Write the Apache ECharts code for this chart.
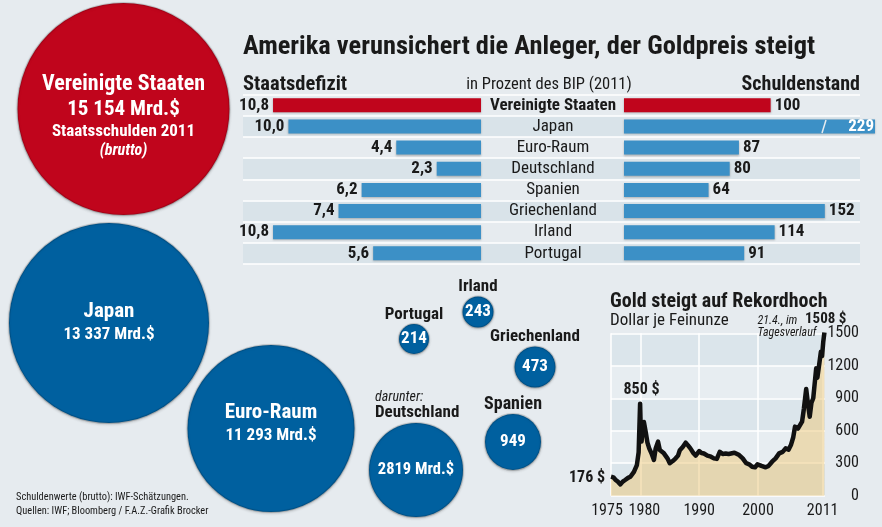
<!DOCTYPE html>
<html>
<head>
<meta charset="utf-8">
<title>Amerika verunsichert die Anleger</title>
<style>
html,body{margin:0;padding:0;background:#e6ebef;}
#main{width:882px;height:527px;}
</style>
<script src="https://cdn.jsdelivr.net/npm/echarts@6/dist/echarts.min.js"></script>
</head>
<body>
<div id="main"></div>
<script>
// bars
var countries = ['Vereinigte Staaten','Japan','Euro-Raum','Deutschland','Spanien','Griechenland','Irland','Portugal'];
var defizit = [10.8,10.0,4.4,2.3,6.2,7.4,10.8,5.6];
var schuldenLabels = [100,229,87,80,64,152,114,91];
// drawn length: the US bar is longer in the original than its label of 100
var schuldenBars = [111,229,87,80,64,152,114,91];

// bubbles
var bubbleNames = ['Vereinigte Staaten','Japan','Euro-Raum','Deutschland','Spanien','Griechenland','Irland','Portugal'];
var bubbleValues = ['15 154','13 337','11 293','2819','949','473','243','214'];

// gold
var goldYears = [1975,1975.4,1975.8,1976.2,1976.6,1977,1977.4,1977.9,1978.3,1978.9,1979.4,1979.7,1979.95,1980.05,1980.2,1980.4,1980.6,1980.9,1981.2,1981.5,1981.9,1982.3,1982.6,1983,1983.3,1983.6,1984,1984.6,1985,1985.5,1986,1986.4,1986.7,1987.2,1987.7,1988.1,1988.5,1989,1989.4,1990,1990.4,1990.8,1991.4,1992,1992.5,1993,1993.5,1994,1994.5,1995,1996,1996.8,1997.4,1998,1998.5,1999,1999.5,1999.9,2000.6,2001.3,2001.8,2002.4,2003,2003.6,2004.2,2004.7,2005.2,2005.6,2006,2006.3,2006.8,2007.5,2007.8,2008.2,2008.5,2008.8,2009.1,2009.4,2009.9,2010.1,2010.4,2010.7,2010.9,2011.1,2011.3];
var goldPrices = [176,170,145,128,105,130,145,165,175,220,283,400,850,640,500,620,680,590,490,437,390,330,437,499,422,410,391,345,300,320,345,370,420,450,490,465,437,395,370,412,395,390,370,360,345,340,406,385,390,385,397,375,345,300,290,268,262,290,275,262,275,314,345,391,405,437,425,468,540,638,620,684,800,985,850,730,860,900,1176,1090,1207,1330,1290,1420,1508];
var goldTicksX = [1975,1980,1990,2000,2011];
var goldLabelsX = [1980,1990,2000,2011];

// layout, px in page
var bubbleX = [123.5,109,271,416,513,535,478,414];
var bubbleY = [109,323,428.5,470,442,367,312,339];
var bubbleSize = [212,200,167,94,56,41,31,30];
var bubbleLabelShift = [6,0,-4,0,0,0,0,0];

var FONT = '"Roboto Condensed","Liberation Sans",sans-serif';
var INK = '#1a1a1a';
var BLUE = '#3c90c6';
var RED = '#c0051c';

function txt(x, y, text, size, opt) {
    opt = opt || {};
    return {
        type: 'text', x: x, y: y, silent: true, z: 20,
        style: {
            text: text, fontFamily: FONT, fontSize: size,
            fontWeight: opt.weight || 'normal', fontStyle: opt.style || 'normal',
            fill: opt.color || INK, align: opt.align || 'left', verticalAlign: 'middle'
        }
    };
}

var chart = echarts.init(document.getElementById('main'));

var barRowTop = 94.7, barRowH = 169.2;

var option = {
    backgroundColor: '#e6ebef',
    animation: false,
    textStyle: {fontFamily: FONT},
    grid: [
        {left: 243, width: 617, top: barRowTop, height: barRowH},   // row bands
        {left: 243, width: 238, top: barRowTop, height: barRowH},   // defizit
        {left: 624, width: 251, top: barRowTop, height: barRowH},   // schulden
        {left: 611, width: 214, top: 333.3, height: 162.4},         // gold
        {left: 0, width: 882, top: 0, height: 527}                  // bubbles, page px
    ],
    xAxis: [
        {gridIndex: 0, type: 'value', show: false},
        {gridIndex: 1, type: 'value', show: false, inverse: true, min: 0, max: 12.36},
        {gridIndex: 2, type: 'value', show: false, min: 0, max: 190},
        {
            gridIndex: 3, type: 'value', min: 1975, max: 2011.4,
            axisLine: {show: false},
            axisTick: {show: false, customValues: goldTicksX},
            axisLabel: {
                customValues: goldLabelsX, color: INK, fontSize: 16, margin: 7,
                formatter: function (v) {
                    return v === 1980 ? '{shift|' + v + '}' : String(v);
                },
                // the 1980 label sits right of its gridline, to clear 1975
                rich: {shift: {fontSize: 16, color: INK, fontFamily: FONT, padding: [0, 0, 0, 8]}}
            },
            splitLine: {show: true, lineStyle: {color: '#fff', width: 1.5}}
        },
        {gridIndex: 4, type: 'value', show: false, min: 0, max: 882}
    ],
    yAxis: [
        {
            gridIndex: 0, type: 'category', inverse: true, data: countries,
            axisLine: {show: false}, axisTick: {show: false}, axisLabel: {show: false},
            splitLine: {show: true, lineStyle: {color: '#fff', width: 1.5}},
            splitArea: {show: true, areaStyle: {color: ['rgba(0,0,0,0)', '#d9e3e9']}}
        },
        {
            gridIndex: 1, type: 'category', inverse: true, data: countries, position: 'right',
            axisLine: {show: false}, axisTick: {show: false},
            axisLabel: {
                interval: 0, margin: 72, align: 'center', color: INK, fontSize: 17,
                formatter: function (v, i) { return i === 0 ? '{b|' + v + '}' : v; },
                rich: {b: {fontWeight: 'bold', fontSize: 17, color: INK, fontFamily: FONT}}
            }
        },
        {gridIndex: 2, type: 'category', inverse: true, data: countries, show: false},
        {
            gridIndex: 3, type: 'value', min: 0, max: 1500, interval: 300, position: 'right',
            axisLine: {show: false}, axisTick: {show: false},
            axisLabel: {
                color: INK, fontSize: 16, margin: 34, align: 'right',
                formatter: function (v) { return String(v); }
            },
            splitLine: {show: true, lineStyle: {color: '#fff', width: 1.5}},
            splitArea: {show: true, areaStyle: {color: ['#dbe5eb', '#e7edf1']}}
        },
        {gridIndex: 4, type: 'value', show: false, min: 0, max: 527, inverse: true}
    ],
    series: [
        {
            type: 'bar', xAxisIndex: 1, yAxisIndex: 1, barWidth: 14,
            data: defizit.map(function (v, i) {
                return {value: v, itemStyle: {color: i === 0 ? RED : BLUE}};
            }),
            itemStyle: {shadowColor: 'rgba(0,0,0,0.25)', shadowBlur: 2, shadowOffsetY: 1},
            label: {
                show: true, position: 'left', distance: 4, color: INK, fontSize: 17, fontWeight: 'bold',
                formatter: function (p) { return p.value.toFixed(1).replace('.', ','); }
            }
        },
        {
            type: 'bar', xAxisIndex: 2, yAxisIndex: 2, barWidth: 14, clip: true,
            data: schuldenBars.map(function (v, i) {
                var item = {value: v, itemStyle: {color: i === 0 ? RED : BLUE}};
                if (v > 190) {
                    item.label = {position: 'insideRight', color: '#fff', distance: 1};
                }
                return item;
            }),
            itemStyle: {shadowColor: 'rgba(0,0,0,0.25)', shadowBlur: 2, shadowOffsetY: 1},
            label: {
                show: true, position: 'right', distance: 4, color: INK, fontSize: 17, fontWeight: 'bold',
                formatter: function (p) { return String(schuldenLabels[p.dataIndex]); }
            }
        },
        {
            type: 'line', xAxisIndex: 3, yAxisIndex: 3, symbol: 'none', clip: false,
            data: goldYears.map(function (y, i) { return [y, goldPrices[i]]; }),
            lineStyle: {color: '#111', width: 4.5, join: 'round'},
            areaStyle: {color: 'rgba(238,200,120,0.72)'}
        },
        {
            type: 'scatter', xAxisIndex: 4, yAxisIndex: 4, silent: true,
            data: bubbleX.map(function (x, i) {
                return {
                    value: [x, bubbleY[i]],
                    label: {offset: [0, bubbleLabelShift[i]]}
                };
            }),
            symbolSize: function (v, p) { return bubbleSize[p.dataIndex]; },
            itemStyle: {
                color: function (p) { return p.dataIndex === 0 ? RED : '#00609f'; },
                borderWidth: 2,
                borderColor: 'rgba(0,0,0,0.14)',
                shadowColor: 'rgba(0,0,0,0.25)', shadowBlur: 3, shadowOffsetY: 1,
                opacity: 1
            },
            label: {
                show: true, position: 'inside', color: '#fff', fontWeight: 'bold', fontSize: 17,
                formatter: function (p) {
                    var i = p.dataIndex, val = bubbleValues[i];
                    if (i === 0) {
                        return '{usName|' + bubbleNames[0] + '}\n{usVal|' + val + ' Mrd.$}\n{mid|Staatsschulden 2011}\n{it|(brutto)}';
                    }
                    if (i < 3) {
                        return '{big|' + bubbleNames[i] + '}\n{big2|' + val + ' Mrd.$}';
                    }
                    return i === 3 ? '{de|' + val + ' Mrd.$}' : val;
                },
                rich: {
                    usName: {fontSize: 22, fontWeight: 'bold', color: '#fff', fontFamily: FONT, lineHeight: 28},
                    usVal: {fontSize: 21, fontWeight: 'bold', color: '#fff', fontFamily: FONT, lineHeight: 24},
                    big: {fontSize: 21, fontWeight: 'bold', color: '#fff', fontFamily: FONT, lineHeight: 23},
                    big2: {fontSize: 17, fontWeight: 'bold', color: '#fff', fontFamily: FONT, lineHeight: 23},
                    de: {fontSize: 16.5, fontWeight: 'bold', color: '#fff', fontFamily: FONT},
                    mid: {fontSize: 17, fontWeight: 'bold', color: '#fff', fontFamily: FONT, lineHeight: 19},
                    it: {fontSize: 16, fontWeight: 'bold', fontStyle: 'italic', color: '#fff', fontFamily: FONT, lineHeight: 19}
                }
            }
        }
    ],
    graphic: [
        txt(243, 47, 'Amerika verunsichert die Anleger, der Goldpreis steigt', 26.4, {weight: 'bold'}),
        txt(243, 85, 'Staatsdefizit', 20.5, {weight: 'bold'}),
        txt(860, 85, 'Schuldenstand', 20, {weight: 'bold', align: 'right'}),
        txt(549, 85, 'in Prozent des BIP (2011)', 16.5, {align: 'center'}),
        {type: 'line', silent: true, z: 10, shape: {x1: 822, y1: 133, x2: 826, y2: 120}, style: {stroke: '#e6ebef', lineWidth: 1.5}},

        txt(478, 287, 'Irland', 17, {weight: 'bold', align: 'center'}),
        txt(414, 315, 'Portugal', 17, {weight: 'bold', align: 'center'}),
        txt(535, 337, 'Griechenland', 17, {weight: 'bold', align: 'center'}),
        txt(513, 404, 'Spanien', 18, {weight: 'bold', align: 'center'}),
        txt(375, 397, 'darunter:', 14, {style: 'italic'}),
        txt(375, 413, 'Deutschland', 17, {weight: 'bold'}),

        txt(16, 497, 'Schuldenwerte (brutto): IWF-Schätzungen.', 10.4),
        txt(16, 511, 'Quellen: IWF; Bloomberg / F.A.Z.-Grafik Brocker', 10.4),

        txt(610, 302, 'Gold steigt auf Rekordhoch', 20, {weight: 'bold'}),
        txt(610, 321, 'Dollar je Feinunze', 17),
        txt(757.5, 321, '21.4., im', 12, {style: 'italic'}),
        txt(757.5, 333, 'Tagesverlauf', 12, {style: 'italic'}),
        txt(805, 319, '1508 $', 15, {weight: 'bold'}),
        txt(641.5, 390, '850 $', 16, {weight: 'bold', align: 'center'}),
        txt(605, 477.5, '176 $', 16, {weight: 'bold', align: 'right'}),
        txt(607, 510.5, '1975', 16, {align: 'center'})
    ]
};
chart.setOption(option);
</script>
</body>
</html>
